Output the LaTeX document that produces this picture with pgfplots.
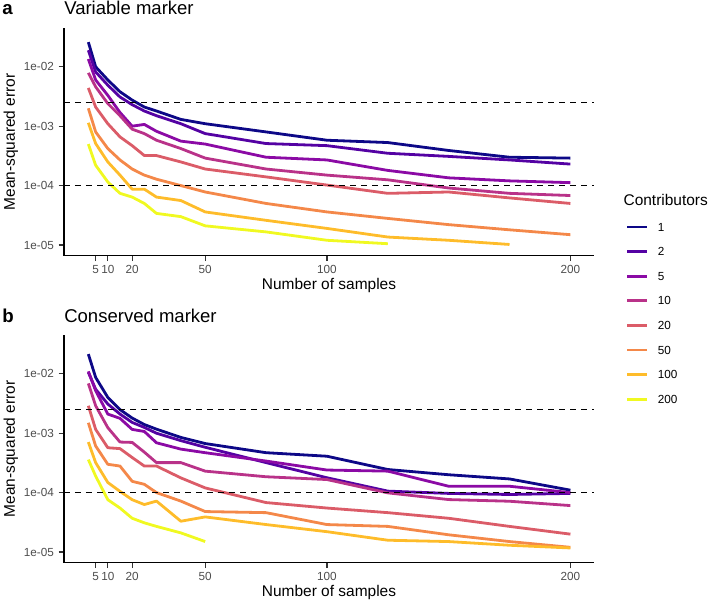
\documentclass[border=0pt]{standalone}
\usepackage{pgfplots}
\pgfplotsset{compat=1.18}
\usepackage{pgfplotstable}
\usepackage{fontspec}
\setmainfont{Liberation Sans}

\definecolor{c1}{HTML}{0D0887}
\definecolor{c2}{HTML}{5402A3}
\definecolor{c5}{HTML}{8B0AA5}
\definecolor{c10}{HTML}{B93289}
\definecolor{c20}{HTML}{DB5C68}
\definecolor{c50}{HTML}{F48849}
\definecolor{c100}{HTML}{FEBC2A}
\definecolor{c200}{HTML}{F0F921}
\definecolor{ticklab}{HTML}{4D4D4D}
\definecolor{tickcol}{HTML}{333333}

% Panel a: Variable marker
\pgfplotstableread{
x   c1      c2      c5       c10       c20      c50       c100      c200
2   0.0260  0.0190  0.0135   0.0079    0.0044   0.0020    0.00114   0.00050
5   0.0100  0.0082  0.0060   0.0046    0.0021   0.00080   0.00051   0.00022
10  0.0060  0.0049  0.0033   0.0024    0.0011   0.00042   0.00025   0.000115
15  0.0038  0.0031  0.0017   0.0015    0.00066  0.00027   0.00015   0.000074
20  0.00275 0.0023  0.0010   0.00089   0.00047  0.00019   0.000087  0.000064
25  0.0021  0.0018  0.00107  0.00075   0.00032  0.00015   0.000087  0.000050
30  0.0018  0.0015  0.00082  0.00058   0.00032  0.000128  0.000064  0.000034
40  0.0013  0.0011  0.00056  0.00042   0.00025  0.00010   0.000056  0.000030
50  0.0011  0.00075 0.00050  0.00029   0.00019  0.000078  0.000036  0.000021
75  0.00080 0.00051 0.00030  0.00019   0.00014  0.000050  0.000026  0.0000166
100 0.00058 0.00047 0.00027  0.00015   0.000102 0.000036  0.000019  0.000012
125 0.00053 0.00035 0.00018  0.000125  0.000074 0.000028  0.0000136 0.0000105
150 0.00039 0.00031 0.000135 0.000091  0.000078 0.000022  0.000012  nan
175 0.00030 0.00027 0.00012  0.000074  0.000062 0.000018  0.0000102 nan
200 0.00029 0.00023 0.000112 0.000068  0.000050 0.0000149 nan       nan
}\tabA

% Panel b: Conserved marker
\pgfplotstableread{
x   c1       c2       c5       c10       c20      c50       c100      c200
2   0.0215   0.0106   0.0110   0.0069    0.0029   0.0015    0.00071   0.00036
5   0.0087   0.0055   0.0052   0.0029    0.00116  0.00061   0.00032   0.00019
10  0.0040   0.0031   0.0021   0.00124   0.00057  0.00030   0.000148  0.000076
15  0.0025   0.0021   0.00178  0.00071   0.00055  0.00028   0.000105  0.000055
20  0.0018   0.00152  0.00116  0.00070   0.00039  0.000155  0.000076  0.000037
25  0.0014   0.00125  0.00107  0.00048   0.00028  0.000138  0.000063  0.000031
30  0.00117  0.00100  0.00069  0.00032   0.00028  0.00010   0.000072  0.000027
40  0.00085  0.00075  0.00054  0.00032   0.000177 0.000072  0.000033  0.000021
50  0.00067  0.00058  0.00047  0.00023   0.00012  0.000048  0.000039  0.000015
75  0.00047  0.00032  0.00034  0.000185  0.000068 0.000046  0.000029  nan
100 0.00041  0.000178 0.00024  0.000166  0.000055 0.000029  0.000022  nan
125 0.000245 0.000106 0.00023  0.0000991 0.000046 0.000027  0.0000158 nan
150 0.00020  0.000097 0.000128 0.0000764 0.000037 0.0000195 0.000015  nan
175 0.00017  0.000093 0.000128 0.0000716 0.000027 0.000015  0.000013  nan
200 0.00011  0.000097 0.00010  0.0000605 0.000020 0.000012  0.0000117 nan
}\tabB

\pgfplotsset{legend image code/.code={\draw[#1] (0pt,0pt) -- (15pt,0pt);}}

\begin{document}
\begin{tikzpicture}
\useasboundingbox (0,0) rectangle (531.75pt,450.75pt);

\begin{semilogyaxis}[
  at={(48pt,258.98pt)},
  scale only axis, width=397.5pt, height=170.8pt, anchor=south west,
  xmin=-8, xmax=209.7, ymin=6.6e-6, ymax=0.045,
  axis x line*=bottom, axis y line*=left,
  axis line style={black, line width=1pt},
  xtick={5,10,20,50,100,200}, xticklabels={5,10,20,50,100,200},
  ytick={1e-5,1e-4,1e-3,1e-2}, yticklabels={1e-05,1e-04,1e-03,1e-02},
  yminorticks=false, xminorticks=false,
  tick align=outside, major tick length=4pt,
  tick style={color=tickcol, line width=0.9pt},
  ticklabel style={font=\fontsize{8.8}{10}\selectfont, text=ticklab},
  xlabel={Number of samples}, ylabel={Mean-squared error},
  label style={font=\fontsize{11.6}{13}\selectfont},
  xlabel style={at={(axis description cs:0.5,-0.1464)}, anchor=base},
  ylabel style={at={(axis description cs:-0.1,0.5)}, anchor=center},
  no markers,
  every axis plot/.append style={line width=2.1pt, line join=round},
  legend cell align=left,
  legend style={at={(axis description cs:1.0598,0.1449)}, anchor=north west,
    draw=none, fill=none, inner sep=0pt, outer sep=0pt,
    font=\fontsize{8.8}{10}\selectfont, row sep=12.15pt,
    nodes={inner sep=0pt, text height=6.3pt, text depth=0pt},
    /tikz/every odd column/.append style={column sep=7pt}},
]
\addplot[c1]   table[x=x,y=c1]{\tabA};   \addlegendentry{1}
\addplot[c2]   table[x=x,y=c2]{\tabA};   \addlegendentry{2}
\addplot[c5]   table[x=x,y=c5]{\tabA};   \addlegendentry{5}
\addplot[c10]  table[x=x,y=c10]{\tabA};  \addlegendentry{10}
\addplot[c20]  table[x=x,y=c20]{\tabA};  \addlegendentry{20}
\addplot[c50]  table[x=x,y=c50]{\tabA};  \addlegendentry{50}
\addplot[c100] table[x=x,y=c100]{\tabA}; \addlegendentry{100}
\addplot[c200] table[x=x,y=c200]{\tabA}; \addlegendentry{200}
\addplot[black, line width=1.1pt, dash pattern=on 4.5pt off 3.75pt, forget plot] coordinates {(-8,0.0025) (209.7,0.0025)};
\addplot[black, line width=1.1pt, dash pattern=on 4.5pt off 3.75pt, forget plot] coordinates {(-8,0.0001) (209.7,0.0001)};
\end{semilogyaxis}

\begin{semilogyaxis}[
  at={(48pt,28.7pt)},
  scale only axis, width=397.5pt, height=170.8pt, anchor=south west,
  xmin=-8, xmax=209.7, ymin=6.6e-6, ymax=0.045,
  axis x line*=bottom, axis y line*=left,
  axis line style={black, line width=1pt},
  xtick={5,10,20,50,100,200}, xticklabels={5,10,20,50,100,200},
  ytick={1e-5,1e-4,1e-3,1e-2}, yticklabels={1e-05,1e-04,1e-03,1e-02},
  yminorticks=false, xminorticks=false,
  tick align=outside, major tick length=4pt,
  tick style={color=tickcol, line width=0.9pt},
  ticklabel style={font=\fontsize{8.8}{10}\selectfont, text=ticklab},
  xlabel={Number of samples}, ylabel={Mean-squared error},
  label style={font=\fontsize{11.6}{13}\selectfont},
  xlabel style={at={(axis description cs:0.5,-0.1464)}, anchor=base},
  ylabel style={at={(axis description cs:-0.1,0.5)}, anchor=center},
  no markers,
  every axis plot/.append style={line width=2.1pt, line join=round},
]
\addplot[c1]   table[x=x,y=c1]{\tabB};
\addplot[c2]   table[x=x,y=c2]{\tabB};
\addplot[c5]   table[x=x,y=c5]{\tabB};
\addplot[c10]  table[x=x,y=c10]{\tabB};
\addplot[c20]  table[x=x,y=c20]{\tabB};
\addplot[c50]  table[x=x,y=c50]{\tabB};
\addplot[c100] table[x=x,y=c100]{\tabB};
\addplot[c200] table[x=x,y=c200]{\tabB};
\addplot[black, line width=1.1pt, dash pattern=on 4.5pt off 3.75pt, forget plot] coordinates {(-8,0.0025) (209.7,0.0025)};
\addplot[black, line width=1.1pt, dash pattern=on 4.5pt off 3.75pt, forget plot] coordinates {(-8,0.0001) (209.7,0.0001)};
\end{semilogyaxis}

\node[anchor=base west, font=\fontsize{14}{16}\selectfont\bfseries, inner sep=0pt] at (1.5pt,439.5pt) {a};
\node[anchor=base west, font=\fontsize{13.9}{16}\selectfont, inner sep=0pt] at (48pt,439.5pt) {Variable marker};
\node[anchor=base west, font=\fontsize{14}{16}\selectfont\bfseries, inner sep=0pt] at (1.5pt,208.7pt) {b};
\node[anchor=base west, font=\fontsize{13.9}{16}\selectfont, inner sep=0pt] at (48pt,208.7pt) {Conserved marker};
\node[anchor=base west, font=\fontsize{11.6}{13}\selectfont, inner sep=0pt] at (467.5pt,297pt) {Contributors};
\end{tikzpicture}
\end{document}
